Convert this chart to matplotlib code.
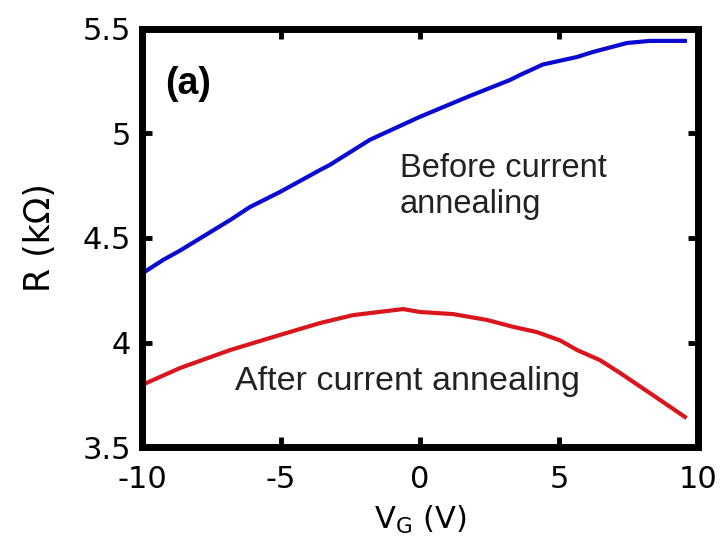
import matplotlib
matplotlib.use('Agg')
import matplotlib.pyplot as plt

# gate voltage sweep (V) and resistance (kOhm)
vg_before = [-10, -9.24, -8.63, -6.83, -6.12, -5.04, -3.6, -3.24, -1.8, 0, 1.8, 3.24, 3.6, 4.42, 5.65, 6.22, 7.45, 8.27, 9.53]
r_before = [4.33, 4.395, 4.44, 4.586, 4.648, 4.72, 4.825, 4.85, 4.97, 5.08, 5.18, 5.256, 5.28, 5.33, 5.366, 5.39, 5.433, 5.443, 5.443]

vg_after = [-10, -8.63, -6.83, -5.04, -3.6, -2.41, -0.61, 0, 1.19, 2.41, 3.35, 4.2, 5.04, 5.65, 6.47, 7.2, 8.27, 9.53]
r_after = [3.797, 3.878, 3.964, 4.036, 4.093, 4.131, 4.16, 4.146, 4.136, 4.108, 4.075, 4.05, 4.01, 3.964, 3.916, 3.854, 3.758, 3.644]

x_ticks = [-10, -5, 0, 5, 10]
y_ticks = [3.5, 4, 4.5, 5, 5.5]
y_ticklabels = ['3.5', '4', '4.5', '5', '5.5']

plt.rcParams['axes.unicode_minus'] = False

fig = plt.figure(figsize=(7.26, 5.54), dpi=100)
ax = fig.add_axes([0.1956, 0.1931, 0.7658, 0.7546])

ax.plot(vg_before, r_before, color='#0a0ad0', lw=3)
ax.plot(vg_after, r_after, color='#d8161c', lw=3)

ax.set_xlim(-10, 10)
ax.set_ylim(3.5, 5.5)
ax.set_xticks(x_ticks)
ax.set_yticks(y_ticks)
ax.set_yticklabels(y_ticklabels)
ax.tick_params(direction='in', length=7, width=3.5, top=True, right=True,
               labelsize=22, pad=8, colors='black')
ax.tick_params(axis='x', pad=13)
for s in ax.spines.values():
    s.set_linewidth(5)

ax.set_xlabel('V$_\\mathregular{G}$ (V)', fontsize=22, labelpad=7)
ax.set_ylabel('R (k\u03a9)', fontsize=25, labelpad=18)

ax.text(-9.17, 5.19, '(a)', fontsize=27, fontweight='bold', family='Liberation Sans',
        va='baseline')
ax.text(-0.72, 4.79, 'Before current', fontsize=23.5, family='Liberation Sans',
        color='#222222', va='baseline')
ax.text(-0.72, 4.62, 'annealing', fontsize=23.5, family='Liberation Sans',
        color='#222222', va='baseline')
ax.text(-6.65, 3.775, 'After current annealing', fontsize=24.5, family='Liberation Sans',
        color='#222222', va='baseline')

fig.savefig('out.png', dpi=100)
